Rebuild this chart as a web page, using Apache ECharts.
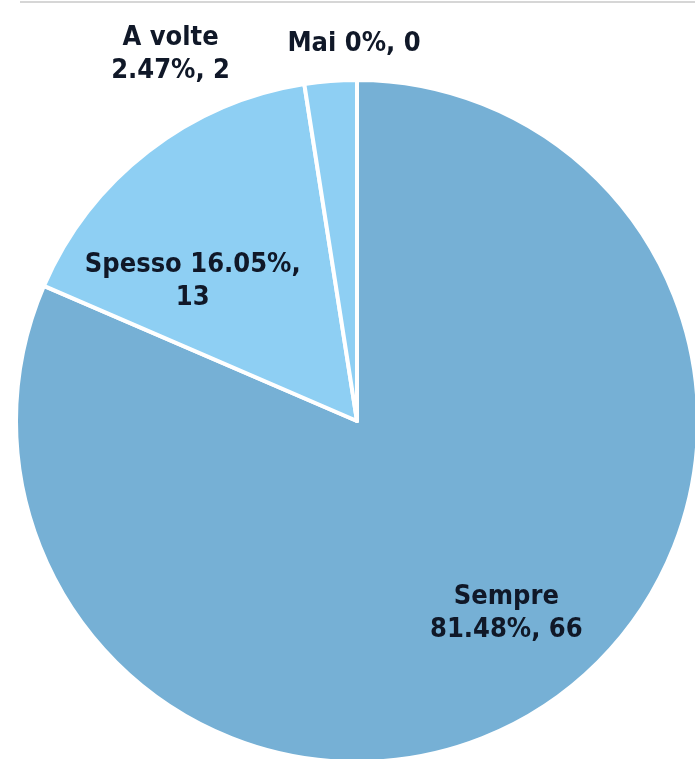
<!DOCTYPE html>
<html>
<head>
<meta charset="utf-8">
<script src="https://cdn.jsdelivr.net/npm/echarts@6/dist/echarts.min.js"></script>
<style>html,body{margin:0;padding:0;background:#fff;}#c{width:695px;height:759px;}</style>
</head>
<body>
<div id="c"></div>
<script>
var categories = ['Sempre', 'Spesso', 'A volte', 'Mai'];
var values = [66, 13, 2, 0];
var colors = ['#76B0D5', '#8ECFF3', '#8ECFF3', '#8ECFF3'];
// text separators: between name and percent, and between "percent," and value
var sepAfterName = ['\n', ' ', '\n', ' '];
var sepAfterPct = [' ', '\n', ' ', ' '];
// label nudges relative to the slice's inner label anchor
var labelShift = [[54, 48], [-58, -2], [-173, -194], [-3, -204]];

var chart = echarts.init(document.getElementById('c'), null, {renderer: 'canvas'});
chart.setOption({
  animation: false,
  backgroundColor: '#ffffff',
  graphic: [{
    type: 'rect', left: 20, top: 1, shape: {width: 680, height: 2},
    style: {fill: '#d6d6d6'}, silent: true
  }],
  series: [{
    type: 'pie',
    center: [357, 421],
    radius: 341,
    startAngle: 90,
    clockwise: true,
    avoidLabelOverlap: false,
    emphasis: {disabled: true},
    itemStyle: {borderColor: '#ffffff', borderWidth: 4},
    label: {
      show: true,
      position: 'inside',
      fontFamily: 'DejaVu Sans Condensed',
      fontWeight: 'bold',
      fontSize: 27,
      lineHeight: 33,
      color: '#101828',
      align: 'center',
      formatter: function (p) {
        var i = p.dataIndex;
        return p.name + sepAfterName[i] + p.percent + '%,' + sepAfterPct[i] + p.value;
      }
    },
    labelLine: {show: false},
    labelLayout: function (params) {
      var s = labelShift[params.dataIndex];
      return {dx: s[0], dy: s[1]};
    },
    data: categories.map(function (n, i) {
      return {name: n, value: values[i], itemStyle: {color: colors[i]}};
    })
  }]
});
</script>
</body>
</html>
